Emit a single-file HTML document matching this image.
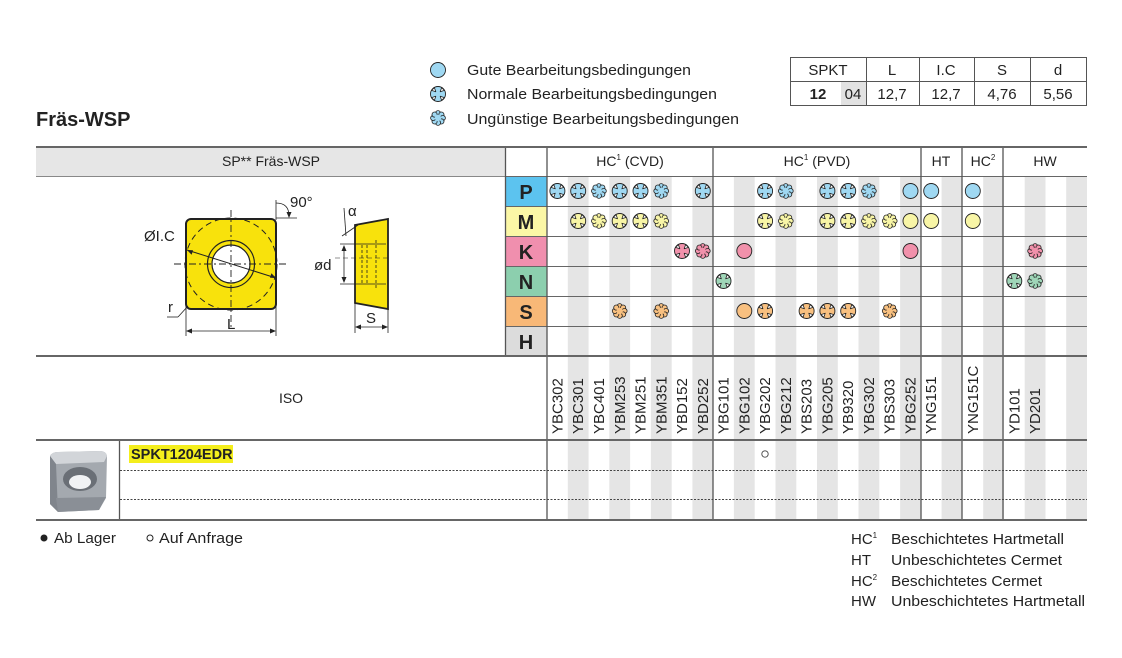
<!DOCTYPE html>
<html><head><meta charset="utf-8"><style>
body{margin:0;background:#fff}
svg{display:block;font-family:"Liberation Sans",sans-serif}
</style></head><body>
<svg width="1122" height="658" viewBox="0 0 1122 658" xmlns="http://www.w3.org/2000/svg">
<defs>
<g id="g"><circle r="7.5" fill="currentColor" stroke="#222" stroke-width="0.9"/></g>
<g id="n"><circle r="7.5" fill="currentColor" stroke="#222" stroke-width="0.9"/>
<path d="M-6.4,-3.6 L-2.2,-2.2 L-3.6,-6.4 Z M6.4,-3.6 L2.2,-2.2 L3.6,-6.4 Z M-6.4,3.6 L-2.2,2.2 L-3.6,6.4 Z M6.4,3.6 L2.2,2.2 L3.6,6.4 Z" fill="#fff" stroke="#222" stroke-width="0.8" stroke-linejoin="round"/></g>
<g id="u" stroke="#222" stroke-width="0.8" fill="currentColor">
<circle cx="0" cy="-4.8" r="2.6"/><circle cx="3.4" cy="-3.4" r="2.6"/><circle cx="4.8" cy="0" r="2.6"/><circle cx="3.4" cy="3.4" r="2.6"/>
<circle cx="0" cy="4.8" r="2.6"/><circle cx="-3.4" cy="3.4" r="2.6"/><circle cx="-4.8" cy="0" r="2.6"/><circle cx="-3.4" cy="-3.4" r="2.6"/>
<circle r="3.2" stroke="none"/></g>
</defs>

<text x="36" y="126" font-size="20" font-weight="bold" fill="#222">Fräs-WSP</text>
<use href="#g" x="438" y="70" style="color:#9fd8f2"/>
<use href="#n" x="438" y="94" style="color:#9fd8f2"/>
<use href="#u" x="438" y="118" style="color:#9fd8f2"/>
<g font-size="15" fill="#222">
<text x="467" y="75" textLength="224" lengthAdjust="spacingAndGlyphs">Gute Bearbeitungsbedingungen</text>
<text x="467" y="99" textLength="250" lengthAdjust="spacingAndGlyphs">Normale Bearbeitungsbedingungen</text>
<text x="467" y="124" textLength="272" lengthAdjust="spacingAndGlyphs">Ungünstige Bearbeitungsbedingungen</text>
</g>

<rect x="841" y="81" width="25" height="24" fill="#e2e2e2"/>
<g stroke="#555" stroke-width="1" fill="none">
<rect x="790.5" y="57.5" width="296" height="48"/>
<line x1="790" y1="81.5" x2="1086" y2="81.5"/>
<line x1="866.5" y1="57" x2="866.5" y2="105"/><line x1="919.5" y1="57" x2="919.5" y2="105"/>
<line x1="974.5" y1="57" x2="974.5" y2="105"/><line x1="1030.5" y1="57" x2="1030.5" y2="105"/>
</g>
<g font-size="15" fill="#222" text-anchor="middle">
<text x="828" y="75">SPKT</text><text x="892" y="75">L</text><text x="946" y="75">I.C</text><text x="1002" y="75">S</text><text x="1058" y="75">d</text>
<text x="818" y="99" font-weight="bold">12</text><text x="853" y="99">04</text>
<text x="892" y="99">12,7</text><text x="946" y="99">12,7</text><text x="1002" y="99">4,76</text><text x="1058" y="99">5,56</text>
</g>

<rect x="36" y="147" width="470" height="29" fill="#e6e6e6"/>
<rect x="506" y="176" width="41" height="30" fill="#5cc3ef"/>
<rect x="506" y="206" width="41" height="30" fill="#fbf7a6"/>
<rect x="506" y="236" width="41" height="30" fill="#f08fae"/>
<rect x="506" y="266" width="41" height="30" fill="#8ccfae"/>
<rect x="506" y="296" width="41" height="30" fill="#f8b877"/>
<rect x="506" y="326" width="41" height="30" fill="#dcdcdc"/>
<g font-size="20" font-weight="bold" fill="#222" text-anchor="middle">
<text x="526" y="199">P</text><text x="526" y="229">M</text><text x="526" y="259">K</text>
<text x="526" y="289">N</text><text x="526" y="319">S</text><text x="526" y="349">H</text>
</g>

<g fill="#e5e5e5">
<rect x="567.8" y="176" width="20.8" height="344"/><rect x="609.3" y="176" width="20.8" height="344"/>
<rect x="650.9" y="176" width="20.8" height="344"/><rect x="692.4" y="176" width="20.8" height="344"/>
<rect x="733.9" y="176" width="20.8" height="344"/><rect x="775.5" y="176" width="20.8" height="344"/>
<rect x="817.0" y="176" width="20.8" height="344"/><rect x="858.5" y="176" width="20.8" height="344"/>
<rect x="900.1" y="176" width="20.8" height="344"/><rect x="941.6" y="176" width="20.8" height="344"/>
<rect x="983.2" y="176" width="20.8" height="344"/><rect x="1024.7" y="176" width="20.8" height="344"/>
<rect x="1066.2" y="176" width="20.8" height="344"/>
</g>

<g stroke="#666" stroke-width="1">
<line x1="506" y1="206.5" x2="1087" y2="206.5"/><line x1="506" y1="236.5" x2="1087" y2="236.5"/>
<line x1="506" y1="266.5" x2="1087" y2="266.5"/><line x1="506" y1="296.5" x2="1087" y2="296.5"/>
<line x1="506" y1="326.5" x2="1087" y2="326.5"/><line x1="506" y1="176.5" x2="1087" y2="176.5"/>
</g>
<line x1="36" y1="176.5" x2="506" y2="176.5" stroke="#888" stroke-width="1"/>
<g stroke="#555" stroke-width="1.3">
<line x1="505.5" y1="147" x2="505.5" y2="356"/>
<line x1="547" y1="147" x2="547" y2="520"/>
<line x1="713" y1="147" x2="713" y2="520"/>
<line x1="921" y1="147" x2="921" y2="520"/>
<line x1="962" y1="147" x2="962" y2="520"/>
<line x1="1003" y1="147" x2="1003" y2="520"/>
<line x1="119.5" y1="440" x2="119.5" y2="520"/>
</g>
<g stroke="#666" stroke-width="2">
<line x1="36" y1="147" x2="1087" y2="147"/>
<line x1="36" y1="356" x2="1087" y2="356"/>
<line x1="36" y1="440" x2="1087" y2="440"/>
<line x1="36" y1="520" x2="1087" y2="520"/>
</g>
<g stroke="#444" stroke-width="1" stroke-dasharray="2,1.5">
<line x1="120" y1="470.5" x2="1087" y2="470.5"/>
<line x1="120" y1="499.5" x2="1087" y2="499.5"/>
</g>

<g font-size="14" fill="#222" text-anchor="middle">
<text x="271" y="166">SP** Fräs-WSP</text>
<text x="630" y="166">HC<tspan font-size="8" dy="-6">1</tspan><tspan dy="6"> (CVD)</tspan></text>
<text x="817" y="166">HC<tspan font-size="8" dy="-6">1</tspan><tspan dy="6"> (PVD)</tspan></text>
<text x="941" y="166">HT</text>
<text x="983" y="166">HC<tspan font-size="8" dy="-6">2</tspan></text>
<text x="1045" y="166">HW</text>
<text x="291" y="403">ISO</text>
</g>

<g font-size="15" fill="#222">
<text transform="translate(562.5,434) rotate(-90)">YBC302</text>
<text transform="translate(583.2,434) rotate(-90)">YBC301</text>
<text transform="translate(604,434) rotate(-90)">YBC401</text>
<text transform="translate(624.8,434) rotate(-90)">YBM253</text>
<text transform="translate(645.5,434) rotate(-90)">YBM251</text>
<text transform="translate(666.3,434) rotate(-90)">YBM351</text>
<text transform="translate(687,434) rotate(-90)">YBD152</text>
<text transform="translate(707.8,434) rotate(-90)">YBD252</text>
<text transform="translate(728.5,434) rotate(-90)">YBG101</text>
<text transform="translate(749.3,434) rotate(-90)">YBG102</text>
<text transform="translate(770.1,434) rotate(-90)">YBG202</text>
<text transform="translate(790.8,434) rotate(-90)">YBG212</text>
<text transform="translate(811.6,434) rotate(-90)">YBS203</text>
<text transform="translate(832.4,434) rotate(-90)">YBG205</text>
<text transform="translate(853.2,434) rotate(-90)">YB9320</text>
<text transform="translate(873.9,434) rotate(-90)">YBG302</text>
<text transform="translate(894.7,434) rotate(-90)">YBS303</text>
<text transform="translate(915.5,434) rotate(-90)">YBG252</text>
<text transform="translate(936.2,434) rotate(-90)">YNG151</text>
<text transform="translate(977.8,434) rotate(-90)">YNG151C</text>
<text transform="translate(1019.3,434) rotate(-90)">YD101</text>
<text transform="translate(1040.1,434) rotate(-90)">YD201</text>
</g>

<g style="color:#9fd8f2">
<use href="#n" x="557.4" y="191"/><use href="#n" x="578.2" y="191"/><use href="#u" x="598.9" y="191"/>
<use href="#n" x="619.7" y="191"/><use href="#n" x="640.5" y="191"/><use href="#u" x="661.2" y="191"/>
<use href="#n" x="702.8" y="191"/>
<use href="#n" x="765.1" y="191"/><use href="#u" x="785.8" y="191"/>
<use href="#n" x="827.4" y="191"/><use href="#n" x="848.2" y="191"/><use href="#u" x="868.9" y="191"/>
<use href="#g" x="910.5" y="191"/><use href="#g" x="931.2" y="191"/><use href="#g" x="972.8" y="191"/>
</g>
<g style="color:#f8f5a6">
<use href="#n" x="578.2" y="221"/><use href="#u" x="598.9" y="221"/>
<use href="#n" x="619.7" y="221"/><use href="#n" x="640.5" y="221"/><use href="#u" x="661.2" y="221"/>
<use href="#n" x="765.1" y="221"/><use href="#u" x="785.8" y="221"/>
<use href="#n" x="827.4" y="221"/><use href="#n" x="848.2" y="221"/><use href="#u" x="868.9" y="221"/><use href="#u" x="889.7" y="221"/>
<use href="#g" x="910.5" y="221"/><use href="#g" x="931.2" y="221"/><use href="#g" x="972.8" y="221"/>
</g>
<g style="color:#f191ab">
<use href="#n" x="682" y="251"/><use href="#u" x="702.8" y="251"/>
<use href="#g" x="744.3" y="251"/><use href="#g" x="910.5" y="251"/>
<use href="#u" x="1035.1" y="251"/>
</g>
<g style="color:#9fd6b8">
<use href="#n" x="723.5" y="281"/>
<use href="#n" x="1014.3" y="281"/><use href="#u" x="1035.1" y="281"/>
</g>
<g style="color:#f8c080">
<use href="#u" x="619.7" y="311"/><use href="#u" x="661.2" y="311"/>
<use href="#g" x="744.3" y="311"/><use href="#n" x="765.1" y="311"/>
<use href="#n" x="806.6" y="311"/><use href="#n" x="827.4" y="311"/><use href="#n" x="848.2" y="311"/>
<use href="#u" x="889.7" y="311"/>
</g>

<rect x="129" y="445" width="104" height="18" fill="#f4ee1c"/>
<text x="131" y="459" font-size="14.5" font-weight="bold" fill="#222">SPKT1204EDR</text>
<circle cx="765" cy="454" r="3.2" fill="none" stroke="#444" stroke-width="0.9"/>
<g>
<path d="M50,456 Q52,452 58,452 L100,451 Q106,451 107,456 L106,498 L99,510 L58,512 L50,504 Z" fill="#a4a9af"/>
<path d="M50,456 Q52,452 58,452 L100,451 Q106,451 107,456 L104,462 L56,464 Z" fill="#d2d5d9"/>
<path d="M50,456 L56,464 L58,512 L50,504 Z" fill="#80858c"/>
<ellipse cx="80" cy="479" rx="17" ry="12" fill="#6a6f76"/>
<ellipse cx="80" cy="482" rx="11" ry="7" fill="#f0f2f4"/>
<path d="M56,498 L106,497 L99,510 L58,512Z" fill="#8a8f96"/>
</g>

<g stroke="#222" stroke-width="1.2" fill="none">
<rect x="186" y="219" width="90" height="90" rx="5" fill="#f8e20c" stroke-width="2"/>
<circle cx="231" cy="264" r="46" stroke-dasharray="6,4" stroke-width="1"/>
<circle cx="231" cy="264" r="23.5" fill="#f8e20c"/>
<circle cx="231" cy="264" r="19" fill="#fff"/>
<g stroke-dasharray="7,3,2,3" stroke-width="0.9">
<line x1="174" y1="264" x2="288" y2="264"/><line x1="231" y1="210" x2="231" y2="330"/>
</g>
<line x1="186" y1="306" x2="186" y2="336" stroke-width="0.8"/>
<line x1="276" y1="230" x2="276" y2="336" stroke-width="0.8"/>
<line x1="188" y1="331" x2="274" y2="331" stroke-width="0.8"/>
<line x1="187" y1="250" x2="276" y2="278" stroke-width="1"/>
<line x1="276" y1="218" x2="297" y2="218" stroke-width="0.8"/>
<line x1="276" y1="200" x2="276" y2="220" stroke-width="0.8"/>
<path d="M276,203 Q289,203 289,216" stroke-width="0.8"/>
<line x1="167" y1="317" x2="178" y2="317" stroke-width="0.8"/>
<line x1="178" y1="317" x2="188" y2="306" stroke-width="0.8"/>
<path d="M355,225 L388,219 L388,309 L355,303 Z" fill="#f8e20c" stroke-width="1.8"/>
<line x1="355" y1="302" x2="355" y2="333" stroke-width="0.8"/>
<line x1="388" y1="309" x2="388" y2="333" stroke-width="0.8"/>
<line x1="357" y1="327" x2="386" y2="327" stroke-width="0.8"/>
<line x1="340" y1="244" x2="386" y2="244" stroke-width="0.8"/>
<line x1="340" y1="284" x2="386" y2="284" stroke-width="0.8"/>
<line x1="344" y1="247" x2="344" y2="281" stroke-width="0.8"/>
<line x1="335" y1="258" x2="390" y2="258" stroke-width="0.6" stroke-dasharray="5,3"/>
<g stroke-dasharray="3,2" stroke-width="0.8">
<line x1="362" y1="245" x2="362" y2="283"/><line x1="367" y1="245" x2="367" y2="283"/>
<line x1="376" y1="240" x2="376" y2="288"/>
</g>
<line x1="342" y1="236" x2="358" y2="225" stroke-width="0.8"/>
<line x1="344" y1="208" x2="346" y2="236" stroke-width="0.8"/>
</g>
<g fill="#222" stroke="none">
<path d="M186,331 l6,-2.5 v5 Z"/><path d="M276,331 l-6,-2.5 v5 Z"/>
<path d="M187,250 l6,0.2 l-1.4,4.6 Z"/><path d="M276,278 l-6,-0.2 l1.4,-4.6 Z"/>
<path d="M355,327 l6,-2.5 v5 Z"/><path d="M388,327 l-6,-2.5 v5 Z"/>
<path d="M344,245 l-2.5,6 h5 Z"/><path d="M344,283 l-2.5,-6 h5 Z"/>
<path d="M289,218 l-2.5,-6 h5 Z"/>
</g>
<g font-size="15" fill="#222">
<text x="144" y="241">ØI.C</text>
<text x="290" y="207">90°</text>
<text x="348" y="216">α</text>
<text x="314" y="270">ød</text>
<text x="168" y="312">r</text>
<text x="227" y="329">L</text>
<text x="366" y="323">S</text>
</g>

<g font-size="15" fill="#222">
<circle cx="44" cy="538" r="3.5" fill="#222"/>
<text x="54" y="543" textLength="62" lengthAdjust="spacingAndGlyphs">Ab Lager</text>
<circle cx="150" cy="538" r="3" fill="none" stroke="#222"/>
<text x="159" y="543" textLength="84" lengthAdjust="spacingAndGlyphs">Auf Anfrage</text>
<text x="851" y="544">HC<tspan font-size="8" dy="-6">1</tspan></text>
<text x="851" y="565">HT</text>
<text x="851" y="586">HC<tspan font-size="8" dy="-6">2</tspan></text>
<text x="851" y="606">HW</text>
<text x="891" y="544" textLength="173" lengthAdjust="spacingAndGlyphs">Beschichtetes Hartmetall</text>
<text x="891" y="565" textLength="171" lengthAdjust="spacingAndGlyphs">Unbeschichtetes Cermet</text>
<text x="891" y="586" textLength="151" lengthAdjust="spacingAndGlyphs">Beschichtetes Cermet</text>
<text x="891" y="606" textLength="194" lengthAdjust="spacingAndGlyphs">Unbeschichtetes Hartmetall</text>
</g>
</svg>
</body></html>
